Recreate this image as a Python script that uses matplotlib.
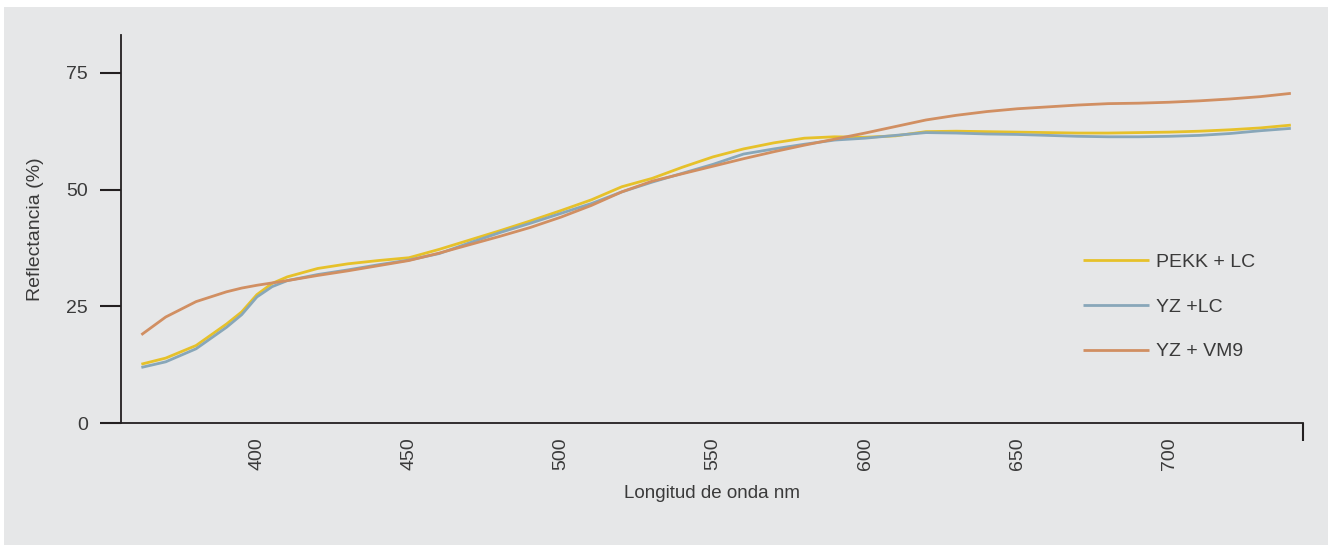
import matplotlib
matplotlib.use('Agg')
import matplotlib.pyplot as plt
import matplotlib.patches as patches

# longitudes de onda (nm)
wavelength = [362, 370, 380, 390, 395, 400, 405, 410, 420, 430, 440, 450,
              460, 470, 480, 490, 500, 510, 520, 530, 540, 550,
              560, 570, 580, 590, 600, 610, 620, 630, 640, 650,
              660, 670, 680, 690, 700, 710, 720, 730, 740]

pekk_lc = [12.6, 13.9, 16.6, 21.2, 23.8, 27.5, 29.9, 31.3, 33.1, 34.1, 34.8, 35.4,
           37.2, 39.2, 41.2, 43.3, 45.5, 47.8, 50.6, 52.4, 54.8, 57.0,
           58.7, 60.0, 61.0, 61.3, 61.2, 61.5, 62.4, 62.5, 62.4, 62.3,
           62.2, 62.1, 62.1, 62.2, 62.3, 62.5, 62.8, 63.2, 63.8]

yz_lc = [11.9, 13.1, 15.9, 20.5, 23.2, 27.0, 29.2, 30.5, 31.8, 32.8, 33.9, 34.9,
         36.3, 38.6, 40.8, 42.8, 44.9, 47.0, 49.5, 51.6, 53.5, 55.4,
         57.6, 58.7, 59.7, 60.6, 61.0, 61.6, 62.2, 62.1, 61.9, 61.8,
         61.6, 61.4, 61.3, 61.3, 61.4, 61.6, 62.0, 62.6, 63.1]

yz_vm9 = [18.9, 22.7, 26.0, 28.1, 28.9, 29.5, 30.0, 30.5, 31.6, 32.6, 33.7, 34.8,
          36.4, 38.2, 40.0, 41.9, 44.1, 46.6, 49.5, 51.8, 53.4, 55.0,
          56.6, 58.1, 59.5, 60.8, 62.1, 63.5, 64.9, 65.9, 66.7, 67.3,
          67.7, 68.1, 68.4, 68.5, 68.7, 69.0, 69.4, 69.9, 70.6]

labels = ['PEKK + LC', 'YZ +LC', 'YZ + VM9']
colors = ['#e6c12a', '#88a7b9', '#d18f62']

x_ticks = [400, 450, 500, 550, 600, 650, 700]
y_ticks = [0, 25, 50, 75]

plt.rcParams['font.family'] = ['Liberation Sans', 'DejaVu Sans']
text_color = '#3a3a3a'
axis_color = '#231f20'

fig = plt.figure(figsize=(13.33, 5.46), dpi=100, facecolor='white')
fig.patches.append(patches.Rectangle((4 / 1333, 1 / 546), 1324 / 1333, 538 / 546,
                                     transform=fig.transFigure, facecolor='#e6e7e8',
                                     edgecolor='none', zorder=-5))

ax = fig.add_axes([121 / 1333, 1 - 423 / 546, 1182 / 1333, 388 / 546])
ax.set_facecolor('none')

for series, label, color in zip([pekk_lc, yz_lc, yz_vm9], labels, colors):
    ax.plot(wavelength, series, color=color, lw=2.0, label=label, solid_capstyle='butt')

ax.set_xlim(355.3, 744)
ax.set_ylim(0, 83.1)

ax.spines['top'].set_visible(False)
ax.spines['right'].set_visible(False)
for s in ['left', 'bottom']:
    ax.spines[s].set_color(axis_color)
    ax.spines[s].set_linewidth(1.3)

ax.set_yticks(y_ticks)
ax.tick_params(axis='y', direction='out', length=15, width=1.5, color=axis_color,
               pad=9, labelsize=14, labelcolor=text_color)
ax.set_xticks(x_ticks)
ax.set_xticklabels([str(t) for t in x_ticks], rotation=90)
ax.tick_params(axis='x', which='major', length=0, pad=10, labelsize=14,
               labelcolor=text_color)
# marca final del eje x
ax.set_xticks([744], minor=True)
ax.tick_params(axis='x', which='minor', direction='out', length=13, width=1.5,
               color=axis_color)

ax.set_ylabel('Reflectancia (%)', fontsize=14, color=text_color)
ax.yaxis.set_label_coords(-0.065, 0.5)
ax.set_xlabel('Longitud de onda nm', fontsize=13.5, color=text_color)
ax.xaxis.set_label_coords(0.5, -0.159)

ax.legend(loc='center left', bbox_to_anchor=(0.8139, 0.2995), frameon=False,
          fontsize=14, handlelength=3.4, handletextpad=0.35, labelspacing=1.4,
          borderpad=0, borderaxespad=0, labelcolor=text_color)

fig.savefig('out.png', dpi=100, facecolor='white')
